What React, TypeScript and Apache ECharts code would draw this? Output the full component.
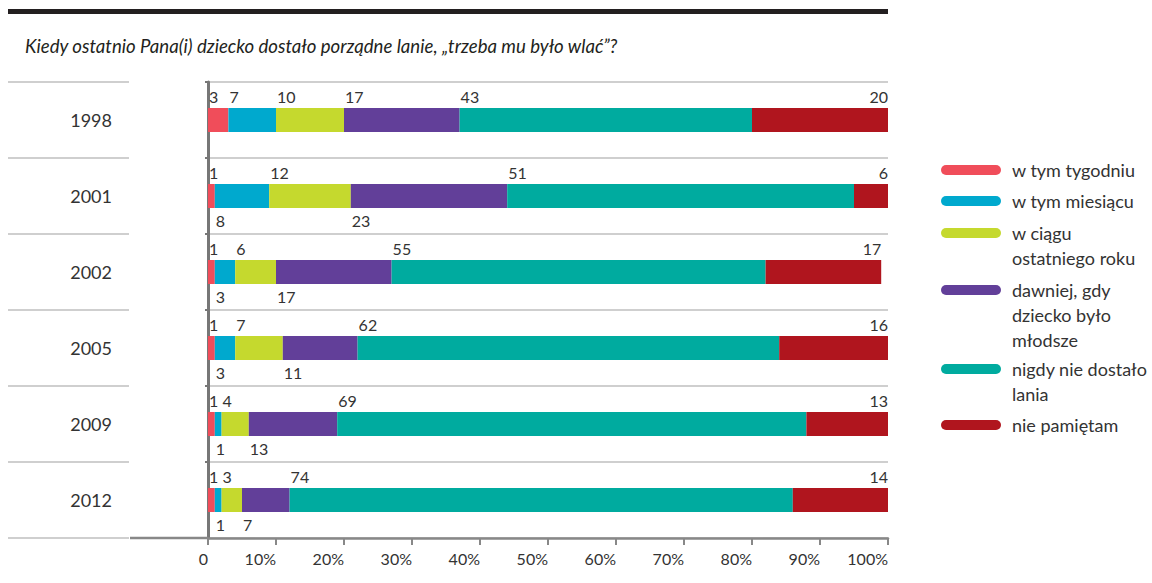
import React, { useEffect, useRef } from 'react';
import * as echarts from 'echarts';

const FONT = 'Lato, "Noto Sans", sans-serif';

const title = 'Kiedy ostatnio Pana(i) dziecko dostało porządne lanie, „trzeba mu było wlać”?';
const years = ['1998', '2001', '2002', '2005', '2009', '2012'];
const seriesNames = [
  'w tym tygodniu',
  'w tym miesiącu',
  'w ciągu ostatniego roku',
  'dawniej, gdy dziecko było młodsze',
  'nigdy nie dostało lania',
  'nie pamiętam',
];
const legendLines = [
  ['w tym tygodniu'],
  ['w tym miesiącu'],
  ['w ciągu', 'ostatniego roku'],
  ['dawniej, gdy', 'dziecko było', 'młodsze'],
  ['nigdy nie dostało', 'lania'],
  ['nie pamiętam'],
];
const wTymTygodniu = [3, 1, 1, 1, 1, 1];
const wTymMiesiacu = [7, 8, 3, 3, 1, 1];
const wCiaguRoku = [10, 12, 6, 7, 4, 3];
const dawniej = [17, 23, 17, 11, 13, 7];
const nigdy = [43, 51, 55, 62, 69, 74];
const niePamietam = [20, 6, 17, 16, 13, 14];
const xTickValues = [0, 10, 20, 30, 40, 50, 60, 70, 80, 90, 100];

const colors = ['#F04D5A', '#00A9CE', '#C5D92E', '#623F99', '#00AB9F', '#B0151E'];

export default function App() {
  const ref = useRef<HTMLDivElement>(null);
  useEffect(() => {
    const chart = echarts.init(ref.current!, null, { renderer: 'svg' });
    const seriesData = [wTymTygodniu, wTymMiesiacu, wCiaguRoku, dawniej, nigdy, niePamietam];

    const gridLeft = 208;
    const gridRight = 888;
    const gridTop = 82;
    const gridBottom = 538;
    const band = (gridBottom - gridTop) / years.length;

    const labelFor = (s: number, r: number) => {
      if (s === seriesData.length - 1) {
        return { position: ['100%', -12], align: 'right', verticalAlign: 'middle' };
      }
      const below = (s === 1 || s === 3) && r > 0;
      if (below) return { position: [1, 36], align: 'left', verticalAlign: 'middle' };
      return { position: [1, -12], align: 'left', verticalAlign: 'middle' };
    };

    const series = seriesData.map((vals, s) => ({
      name: seriesNames[s],
      type: 'bar',
      stack: 'total',
      barWidth: 24,
      itemStyle: { color: colors[s] },
      label: {
        show: true,
        color: '#333',
        fontSize: 16,
        fontFamily: FONT,
        formatter: '{c}',
      },
      data: vals.map((v, r) => ({ value: v, label: labelFor(s, r) })),
    }));

    const legendCenters = [170, 201, 233, 290, 369, 425];
    const lineH = 25;
    const legends = seriesNames.map((name, i) => {
      const n = legendLines[i].length;
      const text = new Array(n - 1).fill('').concat(legendLines[i]).join('\n');
      const boxH = (2 * n - 1) * lineH;
      return {
        show: true,
        data: [name],
        orient: 'vertical',
        left: 941,
        top: legendCenters[i] - boxH / 2,
        padding: 0,
        itemWidth: 60,
        itemHeight: 10,
        icon: 'path://M5,0L55,0A5,5,0,0,1,55,10L5,10A5,5,0,0,1,5,0Z',
        selectedMode: false,
        formatter: () => text,
        textStyle: {
          fontSize: 18,
          lineHeight: lineH,
          color: '#333',
          fontFamily: FONT,
          padding: [0, 0, 0, 6],
        },
      };
    });

    const graphics: any[] = [
      { type: 'rect', shape: { x: 8, y: 9, width: 880, height: 5 }, style: { fill: '#231f20' } },
      {
        type: 'text',
        x: 25,
        y: 46,
        style: {
          text: title,
          font: 'italic 18.6px ' + FONT,
          fill: '#231f20',
          verticalAlign: 'middle',
        },
      },
      {
        type: 'line',
        shape: { x1: 130, y1: gridBottom, x2: gridLeft, y2: gridBottom },
        style: { stroke: '#888', lineWidth: 2.5 },
        z: 10,
      },
    ];
    for (let i = 0; i <= years.length; i++) {
      const y = gridTop + i * band;
      graphics.push({
        type: 'line',
        shape: { x1: 8, y1: y, x2: 129, y2: y },
        style: { stroke: '#cfcfcf', lineWidth: 2 },
      });
    }

    chart.setOption({
      animation: false,
      backgroundColor: '#fff',
      textStyle: { fontFamily: FONT },
      grid: { left: gridLeft, right: 1152 - gridRight, top: gridTop, bottom: 583 - gridBottom },
      legend: legends,
      xAxis: {
        type: 'value',
        min: xTickValues[0],
        max: xTickValues[xTickValues.length - 1],
        interval: xTickValues[1] - xTickValues[0],
        axisLine: { show: true, lineStyle: { color: '#888', width: 2.5 } },
        axisTick: { show: true, length: 7, lineStyle: { color: '#888', width: 2 } },
        axisLabel: {
          align: 'right',
          margin: 12,
          fontSize: 16,
          color: '#333',
          fontFamily: FONT,
          formatter: (v: number) => (v === 0 ? '0' : v + '%'),
        },
        splitLine: { show: false },
      },
      yAxis: {
        type: 'category',
        data: years,
        inverse: true,
        offset: gridLeft - 130,
        axisLine: { show: true, lineStyle: { color: '#777', width: 3 } },
        axisTick: { show: true, length: 3, lineStyle: { color: '#777', width: 2 } },
        axisLabel: { margin: 18, fontSize: 18, color: '#333', fontFamily: FONT },
        splitLine: { show: true, lineStyle: { color: '#cfcfcf', width: 2 } },
      },
      graphic: graphics,
      series,
    });
    return () => chart.dispose();
  }, []);
  return (
    <div
      ref={ref}
      style={{ position: 'absolute', left: 0, top: 0, width: 1152, height: 583, background: '#fff' }}
    />
  );
}
